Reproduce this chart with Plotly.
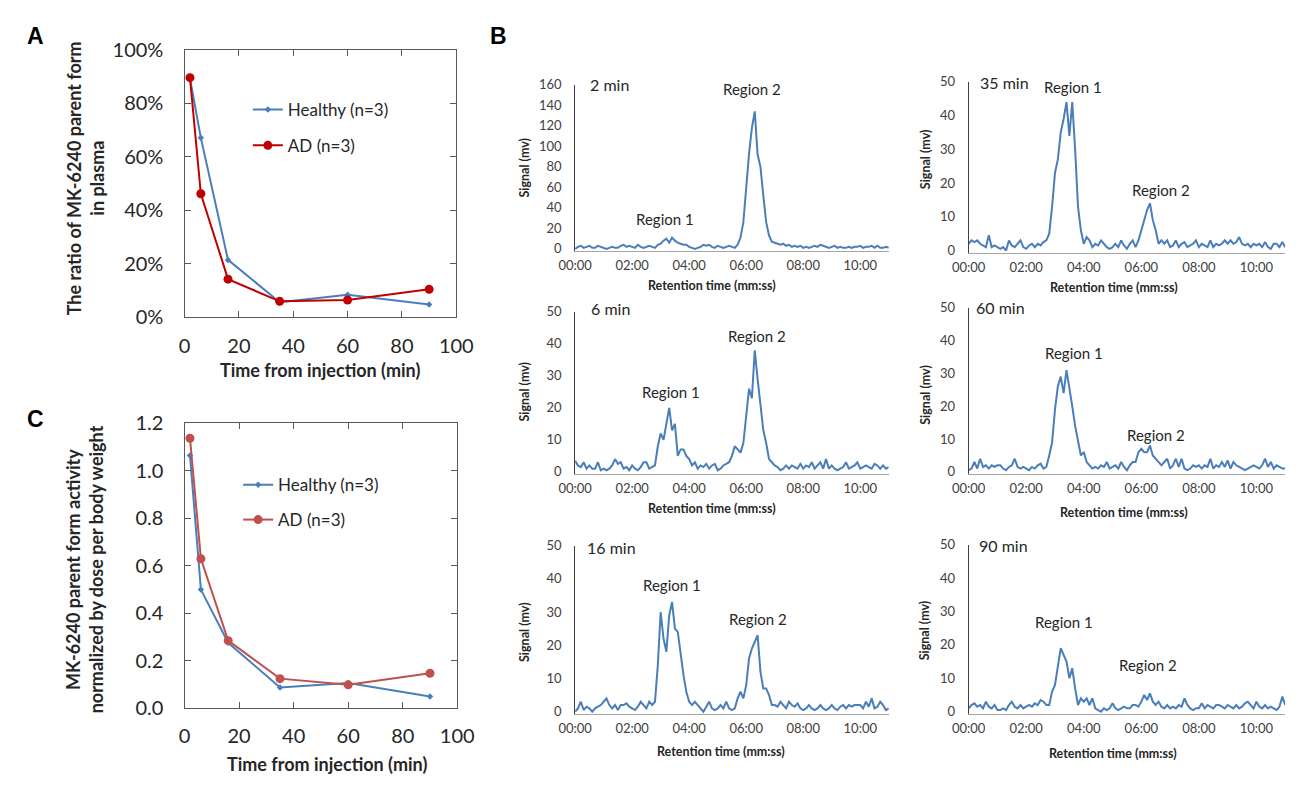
import plotly.graph_objects as go

W, H = 1310, 786

# ---------------- Panels A and C: parent-form kinetics ----------------
inj_time_min = [2, 6, 16, 35, 60, 90]
ratio_healthy = [0.893, 0.671, 0.215, 0.057, 0.085, 0.048]
ratio_ad = [0.896, 0.462, 0.143, 0.060, 0.065, 0.105]
activity_healthy = [1.064, 0.499, 0.275, 0.087, 0.106, 0.049]
activity_ad = [1.136, 0.629, 0.284, 0.124, 0.098, 0.147]

# ---------------- Panel B: radio-HPLC chromatograms ----------------
retention_min = [i / 10 for i in range(111)]          # 00:00 .. 11:00, 6 s steps
time_ticks = [0, 2, 4, 6, 8, 10]
time_tick_labels = ["00:00", "02:00", "04:00", "06:00", "08:00", "10:00"]

sig_2min = [0, 2, 3, 1, 2, 3, 1, 1, 3, 2,
            1, 0, 1, 2, 1, 1, 3, 4, 2, 3,
            2, 1, 4, 2, 1, 2, 3, 2, 1, 4,
            5, 8, 10, 6, 11, 8, 6, 5, 4, 4,
            2, 1, 0, 1, 2, 4, 3, 4, 2, 1,
            3, 2, 1, 2, 3, 2, 1, 4, 11, 26,
            62, 93, 118, 134, 92, 80, 52, 26, 13, 7,
            6, 5, 4, 5, 3, 4, 2, 3, 2, 3,
            1, 2, 1, 2, 3, 2, 4, 3, 2, 1,
            2, 3, 1, 2, 1, 1, 2, 1, 2, 2,
            3, 1, 2, 2, 3, 1, 3, 1, 1, 2,
            1]

sig_35min = [2, 3, 2.5, 3, 2, 1.5, 1, 4.5, 1, 1.5,
             1, 0.5, 1, 0, 3, 1.5, 1, 2, 3, 1,
             0.5, 1.5, 2, 1, 2, 1.5, 2.5, 3, 5, 13,
             23, 27, 35, 39, 44, 34, 44, 30, 13, 6,
             2, 4, 3, 1, 2, 1.5, 3, 2, 1, 0.5,
             1, 2, 1, 3, 1.5, 0.5, 2, 3, 1, 3,
             6, 9, 12, 14, 9, 6, 2, 3, 2, 3,
             1, 1.5, 3, 1, 2, 2.5, 1, 1.5, 2, 3,
             1, 2, 1.5, 1, 3, 1, 2, 1.5, 2, 3,
             2, 3, 2, 2.5, 4, 2, 1.5, 2, 1, 2,
             1.5, 2, 1, 2.5, 1, 0.5, 2, 2, 1, 2.5,
             1]

sig_6min = [3.5, 2, 1.5, 3, 1, 2, 1, 1, 3, 0.5,
            1, 0.5, 1, 2, 4, 2.5, 3, 1, 1.5, 0.5,
            2, 1, 0.5, 1.5, 3, 3, 1, 1.5, 2, 8,
            12, 10, 15, 20, 13, 15, 5, 7, 7, 5,
            4, 2, 3, 1, 2, 1.5, 2.5, 1, 2, 2.5,
            0.5, 1, 2, 2.5, 3, 5, 8, 7, 6, 9,
            18, 26, 23, 38, 29, 20, 13, 9, 4, 3,
            2, 1.5, 0.5, 1, 2, 1, 2, 1.5, 1, 2.5,
            1, 2, 1.5, 3, 1, 2, 3, 1, 4, 1,
            2, 1, 0.5, 1, 1.5, 3, 1, 1.5, 2, 3,
            1, 1.5, 2, 1.5, 1, 2.5, 2, 1, 2, 1,
            1.5]

sig_60min = [0.5, 1, 3, 1, 4, 1.5, 2, 1, 2, 1.5,
             2, 2, 1, 0.5, 1.5, 2, 4, 1.5, 1, 1.5,
             1, 0.5, 1.5, 1, 2, 2.5, 1, 1.5, 5, 9,
             19, 26, 29, 24, 31, 26, 20, 14, 9, 5,
             6, 3, 2, 1, 1.5, 1, 2, 1.5, 3, 1,
             1.5, 2, 1, 3, 1.5, 0.5, 2, 3, 3, 6,
             7, 6, 6, 8, 5, 4, 3, 2, 3, 4,
             1, 2, 4, 1.5, 4, 1, 0.5, 1, 2, 1.5,
             2, 1, 2, 1.5, 4, 1, 2, 1.5, 3, 1.5,
             3.5, 1, 3, 2, 1.5, 1, 0.5, 1, 1.5, 2,
             1.5, 1, 2, 4, 1.5, 3, 1, 2, 1.5, 1,
             1]

sig_16min = [0, 1, 3, 0.5, 1.5, 1, 0, 1, 1.5, 2,
             3, 4, 2, 1, 2, 0.5, 2, 2, 2.5, 1.5,
             1, 0.5, 1.5, 3, 2, 1, 3, 2, 3, 14,
             30, 22, 18, 29, 33, 25, 24, 17, 11, 6,
             3, 2, 3, 2, 1, 0, 1.5, 3, 1, 0.5,
             1, 2, 1, 3, 1, 0.5, 1, 4, 6, 4,
             8, 16, 19, 21, 23, 12, 7, 7, 5, 2,
             2, 1.5, 3, 2, 1, 3, 2, 1.5, 2.5, 1,
             0.5, 1, 2, 1, 0.5, 1, 2, 1, 0.5, 1,
             2, 1, 0.5, 1.5, 2, 1, 2, 1.5, 2, 2,
             2, 1, 3, 1.5, 4, 1, 1.5, 3, 2, 0.5,
             1]

sig_90min = [1, 2, 2.5, 1.5, 2, 1, 3, 1.5, 1, 2,
             0.5, 0.5, 1, 0.5, 2, 3, 1.5, 1, 2, 1,
             1.5, 2, 1.5, 2.5, 2, 3.5, 3, 2, 2, 6,
             8, 14, 19, 17, 15, 10, 13, 7, 2, 4,
             3, 4, 2, 4, 1, 0.5, 0, 1, 0.5, 1,
             2.5, 1, 0.5, 1, 1.5, 1, 1, 2, 2, 1.5,
             3, 5, 3.5, 5.5, 3, 2, 3, 1.5, 1, 2,
             1, 1.5, 1, 2, 1.5, 4, 2, 1, 0.5, 1,
             1, 2.5, 1, 2, 1.5, 1, 2, 2, 1.5, 1,
             2, 1.5, 1, 2, 1, 1.5, 2.5, 3, 2, 1,
             3, 1.5, 1, 2, 1, 1.5, 1, 0.5, 1.5, 4.5,
             2]

BLUE = "#4a7ebb"
RED_A = "#c00000"
RED_C = "#c0504d"
TXT = "#262626"
FONT = "Lato, Open Sans, sans-serif"


def fx(px):
    return px / W


def fy(py):
    return 1 - py / H


fig = go.Figure()
annotations = []

# ---------------- Panel A ----------------
fig.add_trace(go.Scatter(x=inj_time_min, y=ratio_healthy, name="Healthy (n=3)",
                         mode="lines+markers", xaxis="x", yaxis="y", legend="legend",
                         line=dict(color=BLUE, width=2),
                         marker=dict(symbol="diamond", size=5, color=BLUE)))
fig.add_trace(go.Scatter(x=inj_time_min, y=ratio_ad, name="AD (n=3)",
                         mode="lines+markers", xaxis="x", yaxis="y", legend="legend2",
                         line=dict(color=RED_A, width=2),
                         marker=dict(symbol="circle", size=9, color=RED_A)))

# ---------------- Panel C ----------------
fig.add_trace(go.Scatter(x=inj_time_min, y=activity_healthy, name="Healthy (n=3)",
                         mode="lines+markers", xaxis="x2", yaxis="y2", legend="legend3",
                         line=dict(color=BLUE, width=2),
                         marker=dict(symbol="diamond", size=5, color=BLUE)))
fig.add_trace(go.Scatter(x=inj_time_min, y=activity_ad, name="AD (n=3)",
                         mode="lines+markers", xaxis="x2", yaxis="y2", legend="legend4",
                         line=dict(color=RED_C, width=2),
                         marker=dict(symbol="circle", size=9, color=RED_C)))

frame = dict(showline=True, linecolor="#595959", linewidth=1.3, mirror="allticks",
             ticks="inside", ticklen=6, tickcolor="#595959", showgrid=False, zeroline=False,
             tickfont=dict(family=FONT, size=20, color=TXT))

layout = dict(
    xaxis=dict(domain=[fx(172), fx(451)], range=[0, 100], dtick=20, anchor="y",
               ticklabelstandoff=10, **frame),
    yaxis=dict(domain=[fy(314), fy(38)], range=[0, 1], dtick=0.2, tickformat=".0%",
               anchor="x", ticklabelstandoff=16, **frame),
    xaxis2=dict(domain=[fx(172), fx(452)], range=[0, 100], dtick=20, anchor="y2",
                ticklabelstandoff=10, **frame),
    yaxis2=dict(domain=[fy(717), fy(423)], range=[0, 1.2], dtick=0.2, tickformat=".1f",
                anchor="x2", ticklabelstandoff=16, **frame),
)

bold = dict(family=FONT, size=18, color=TXT, weight="bold")
annotations += [
    dict(text="The ratio of MK-6240 parent form", x=fx(58), y=fy(170),
         textangle=-90, font=bold),
    dict(text="in plasma", x=fx(82), y=fy(170), textangle=-90, font=bold),
    dict(text="Time from injection (min)", x=fx(311), y=fy(368), font=bold),
    dict(text="MK-6240 parent form activity", x=fx(58), y=fy(574),
         textangle=-90, font=bold),
    dict(text="normalized by dose per body weight", x=fx(82), y=fy(574),
         textangle=-90, font=bold),
    dict(text="Time from injection (min)", x=fx(318), y=fy(775), font=bold),
]

# ---------------- Panel B chromatograms ----------------
# (series, time label, y max, y step, x-left px, x-right px, zero px, top px,
#  signal-title pos, retention-title pos, label pos, region-1 pos, region-2 pos)
chroms = [
    (sig_2min, "2 min", 160, 20, 573, 895, 243.3, 74, (521, 159), (714, 281),
     (586, 74), (665, 212), (755, 78)),
    (sig_35min, "35 min", 50, 10, 977, 1302, 245, 71, (933, 151), (1126, 283),
     (987, 72), (1084, 76), (1174, 183)),
    (sig_6min, "6 min", 50, 10, 573, 895, 473.3, 308.3, (521, 390), (714, 511),
     (587, 305), (671, 391), (760, 333)),
    (sig_60min, "60 min", 50, 10, 977, 1302, 473.3, 304, (933, 394), (1137, 515),
     (983, 304), (1085, 351), (1169, 435)),
    (sig_16min, "16 min", 50, 10, 573, 895, 720.7, 549.3, (521, 638), (723, 762),
     (583, 551), (672, 590), (761, 625)),
    (sig_90min, "90 min", 50, 10, 977, 1302, 720.7, 548.3, (932, 637), (1125, 764),
     (986, 549), (1075, 628), (1161, 673)),
]

tick13 = dict(family=FONT, size=13, color="#404040")
for i, (sig, lab, ymax, ystep, xl, xr, y0, yt, sig_pos, ret_pos, lab_pos, r1, r2) in enumerate(chroms):
    n = i + 3
    pad = 0.012 * ymax
    bottom_px = y0 + pad * (y0 - yt) / ymax
    fig.add_trace(go.Scatter(x=retention_min, y=sig, mode="lines", showlegend=False,
                             xaxis=f"x{n}", yaxis=f"y{n}",
                             line=dict(color=BLUE, width=2)))
    layout[f"xaxis{n}"] = dict(domain=[fx(xl), fx(xr)], range=[0, 11], anchor=f"y{n}",
                               tickvals=time_ticks, ticktext=time_tick_labels,
                               showline=True, linecolor="#a6a6a6", linewidth=1,
                               showgrid=False, zeroline=False, ticks="",
                               ticklabelstandoff=3, tickfont=tick13)
    layout[f"yaxis{n}"] = dict(domain=[fy(bottom_px), fy(yt)], range=[-pad, ymax],
                               anchor=f"x{n}", dtick=ystep, tick0=0,
                               showline=True, linecolor="#404040", linewidth=1,
                               showgrid=False, zeroline=False, ticks="",
                               ticklabelstandoff=10, tickfont=tick13)
    annotations += [
        dict(text="Signal (mv)", x=fx(sig_pos[0]), y=fy(sig_pos[1]), textangle=-90,
             font=dict(family=FONT, size=12.5, color=TXT, weight="bold")),
        dict(text="Retention time (mm:ss)", x=fx(ret_pos[0]), y=fy(ret_pos[1]),
             font=dict(family=FONT, size=12.5, color=TXT, weight="bold")),
        dict(text=lab, x=fx(lab_pos[0]), y=fy(lab_pos[1]), xanchor="left",
             font=dict(family=FONT, size=16, color=TXT)),
        dict(text="Region 1", x=fx(r1[0]), y=fy(r1[1]),
             font=dict(family=FONT, size=15, color=TXT)),
        dict(text="Region 2", x=fx(r2[0]), y=fy(r2[1]),
             font=dict(family=FONT, size=15, color=TXT)),
    ]

# panel letters
letter = dict(family="Liberation Sans, Arial, sans-serif", size=23, color="#000000",
              weight="bold")
annotations += [
    dict(text="A", x=fx(19), y=fy(24), font=letter),
    dict(text="B", x=fx(494), y=fy(24), font=letter),
    dict(text="C", x=fx(19), y=fy(419), font=letter),
]
for a in annotations:
    a.setdefault("xref", "paper")
    a.setdefault("yref", "paper")
    a.setdefault("showarrow", False)
    a.setdefault("xanchor", "center")
    a.setdefault("yanchor", "middle")

legend_font = dict(family=FONT, size=17, color=TXT)


def legend_at(xpx, ypx):
    return dict(x=fx(xpx), y=fy(ypx), xanchor="left", yanchor="middle",
                bgcolor="rgba(0,0,0,0)", borderwidth=0, font=legend_font,
                itemwidth=30)


layout.update(
    legend=legend_at(237, 100),
    legend2=legend_at(237, 137),
    legend3=legend_at(227, 487),
    legend4=legend_at(227, 523),
    annotations=annotations,
    width=W, height=H,
    margin=dict(l=0, r=0, t=0, b=0),
    paper_bgcolor="white", plot_bgcolor="white",
    showlegend=True,
)
fig.update_layout(**layout)

# page without body margin so the figure sits flush in the window
fig.write_html("out.html",
               post_script="document.body.style.margin='0';"
                           "document.body.style.overflow='hidden';")
